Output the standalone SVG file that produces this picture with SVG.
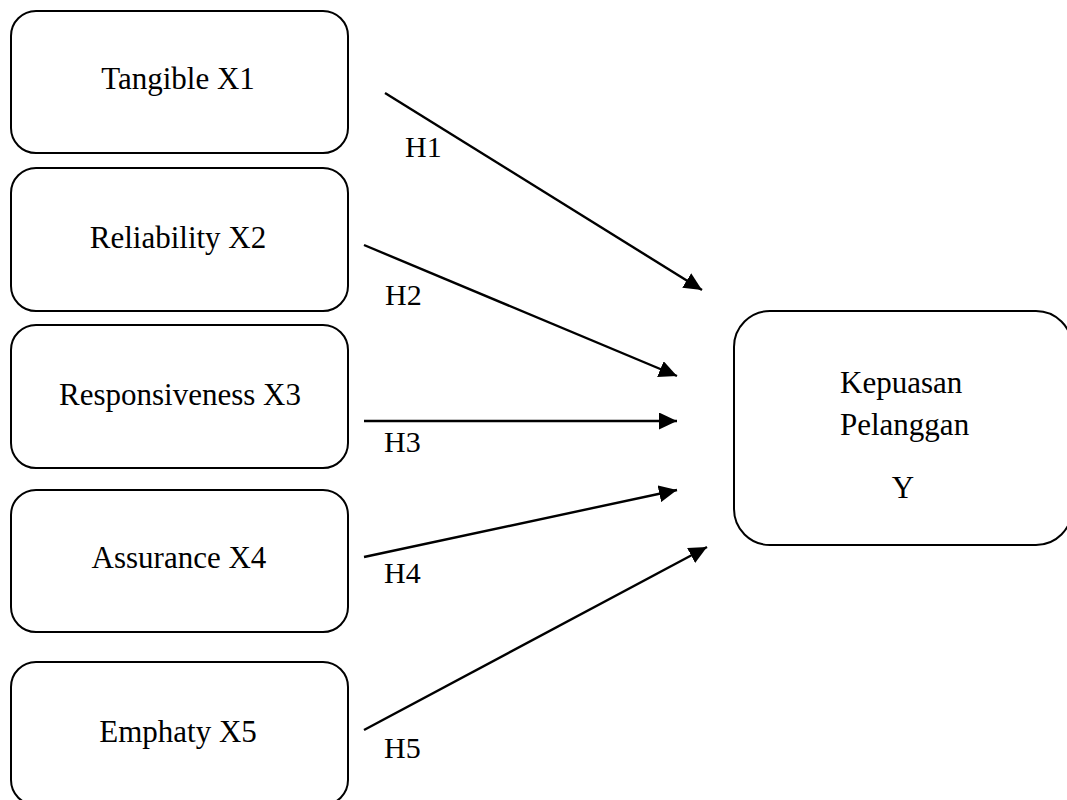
<svg xmlns="http://www.w3.org/2000/svg" width="1067" height="800" viewBox="0 0 1067 800">
<style>
.box{fill:#fff;stroke:#000;stroke-width:2}
.t{font-family:"Liberation Serif","Times New Roman",serif;font-size:31px;fill:#000;text-anchor:middle}
.l{font-family:"Liberation Serif","Times New Roman",serif;font-size:30px;fill:#000}
.c{stroke:#000;stroke-width:2.4;fill:none;marker-end:url(#ah)}
</style>
<defs>
<marker id="ah" markerUnits="userSpaceOnUse" markerWidth="19" markerHeight="17" refX="18" refY="8.5" orient="auto">
<path d="M0,0 L18,8.5 L0,17 Z" fill="#000"/>
</marker>
</defs>
<rect width="1067" height="800" fill="#fff"/>
<g id="n1"><rect class="box" x="11" y="11" width="337" height="142" rx="25"/><text class="t" x="178" y="89">Tangible X1</text></g>
<g id="n2"><rect class="box" x="11" y="168" width="337" height="143" rx="25"/><text class="t" x="178" y="248">Reliability X2</text></g>
<g id="n3"><rect class="box" x="11" y="325" width="337" height="143" rx="25"/><text class="t" x="180" y="405">Responsiveness X3</text></g>
<g id="n4"><rect class="box" x="11" y="490" width="337" height="142" rx="25"/><text class="t" x="179" y="568">Assurance X4</text></g>
<g id="n5"><rect class="box" x="11" y="662" width="337" height="143" rx="25"/><text class="t" x="178" y="742">Emphaty X5</text></g>
<g id="ny"><rect class="box" x="734" y="311" width="338" height="234" rx="36"/>
<text class="t" x="840" y="393" style="text-anchor:start">Kepuasan</text>
<text class="t" x="840" y="435" style="text-anchor:start">Pelanggan</text>
<text class="t" x="903" y="498">Y</text></g>
<g id="connectors">
<line class="c" x1="385" y1="93" x2="702" y2="290"/>
<line class="c" x1="364" y1="245" x2="677" y2="376"/>
<line class="c" x1="364" y1="421" x2="677" y2="421"/>
<line class="c" x1="364" y1="557" x2="677" y2="490"/>
<line class="c" x1="364" y1="730" x2="707" y2="547"/>
<text class="l" x="405" y="157">H1</text>
<text class="l" x="385" y="305">H2</text>
<text class="l" x="384" y="452">H3</text>
<text class="l" x="384" y="583">H4</text>
<text class="l" x="384" y="758">H5</text>
</g>
</svg>
